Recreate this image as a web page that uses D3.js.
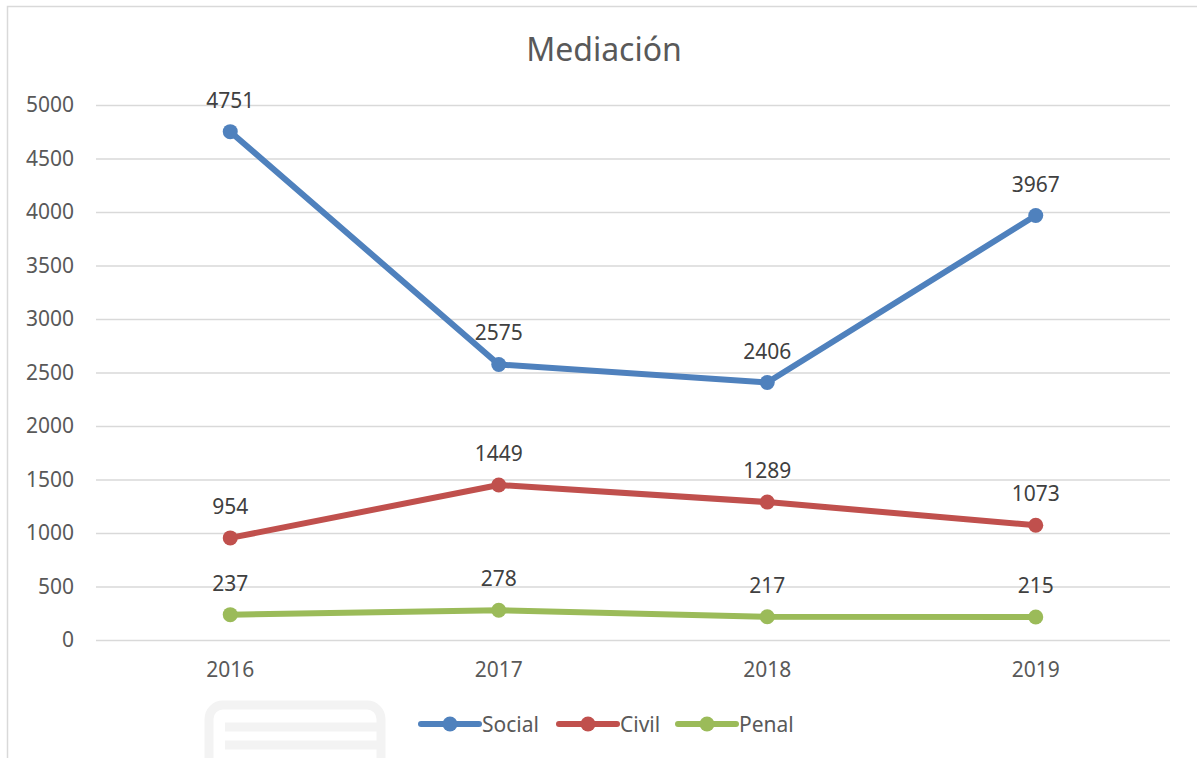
<!DOCTYPE html>
<html>
<head>
<meta charset="utf-8">
<script src="https://cdn.jsdelivr.net/npm/d3@7"></script>
<style>
 body { margin: 0; background: #fff; }
 text { font-family: "Noto Sans", "Open Sans", sans-serif; }
</style>
</head>
<body>
<div id="chart"></div>
<script>
const years = ["2016", "2017", "2018", "2019"];
const social = [4751, 2575, 2406, 3967];
const civil = [954, 1449, 1289, 1073];
const penal = [237, 278, 217, 215];
const yTicks = [0, 500, 1000, 1500, 2000, 2500, 3000, 3500, 4000, 4500, 5000];
const seriesNames = ["Social", "Civil", "Penal"];
const colors = ["#4f81bd", "#c0504d", "#9bbb59"];

const W = 1197, H = 758;
const plot = { left: 96, right: 1170, top: 105, bottom: 640 };

const svg = d3.select("#chart").append("svg")
 .attr("width", W).attr("height", H);

// faint logo of the watermark
const wm = svg.append("g").attr("fill", "none").attr("stroke", "#f3f3f3").attr("stroke-width", 9);
wm.append("rect").attr("x", 209).attr("y", 705).attr("width", 172).attr("height", 90).attr("rx", 14);
wm.append("line").attr("x1", 225).attr("x2", 381).attr("y1", 727).attr("y2", 727);
wm.append("line").attr("x1", 225).attr("x2", 381).attr("y1", 745).attr("y2", 745);

// chart border
svg.append("path")
 .attr("d", `M7.5,${H} V6.5 H${W}`)
 .attr("fill", "none").attr("stroke", "#d9d9d9").attr("stroke-width", 1.5);

const x = d3.scaleBand().domain(years).range([plot.left, plot.right]);
const y = d3.scaleLinear().domain([0, 5000]).range([plot.bottom, plot.top]);

// gridlines
svg.append("g")
 .attr("transform", `translate(${plot.left},0)`)
 .call(d3.axisLeft(y).tickValues(yTicks).tickSize(-(plot.right - plot.left)).tickFormat(""))
 .call(g => g.select(".domain").remove())
 .call(g => g.selectAll("line").attr("stroke", "#d9d9d9").attr("stroke-width", 1.5));

// y labels
svg.append("g")
 .attr("transform", `translate(${plot.left - 22},0)`)
 .call(d3.axisLeft(y).tickValues(yTicks).tickSize(0).tickFormat(d3.format("d")))
 .call(g => g.select(".domain").remove())
 .call(g => g.selectAll("text").attr("font-size", 21).attr("fill", "#595959")
  .attr("font-family", "Noto Sans").attr("x", 0));

// x labels
svg.append("g")
 .attr("transform", `translate(0,${plot.bottom + 19})`)
 .call(d3.axisBottom(x).tickSize(0))
 .call(g => g.select(".domain").remove())
 .call(g => g.selectAll("text").attr("font-size", 21).attr("fill", "#595959")
  .attr("font-family", "Noto Sans"));

// title
svg.append("text")
 .attr("x", 604).attr("y", 61)
 .attr("text-anchor", "middle")
 .attr("font-size", 32).attr("fill", "#595959")
 .text("Mediación");

const series = [social, civil, penal];
const line = d3.line().x((d, i) => x(years[i]) + x.bandwidth() / 2).y(d => y(d));

series.forEach((vals, s) => {
 const g = svg.append("g");
 g.append("path")
  .attr("d", line(vals))
  .attr("fill", "none")
  .attr("stroke", colors[s])
  .attr("stroke-width", 6)
  .attr("stroke-linejoin", "round")
  .attr("stroke-linecap", "round");
 g.selectAll("circle").data(vals).enter().append("circle")
  .attr("cx", (d, i) => x(years[i]) + x.bandwidth() / 2)
  .attr("cy", d => y(d))
  .attr("r", 7.5)
  .attr("fill", colors[s]);
 g.selectAll("text").data(vals).enter().append("text")
  .attr("x", (d, i) => x(years[i]) + x.bandwidth() / 2)
  .attr("y", d => y(d) - 24)
  .attr("text-anchor", "middle")
  .attr("font-size", 21)
  .attr("fill", "#404040")
  .text(d => d);
});

// legend
const legendX = [421, 559, 678];
const legend = svg.append("g").attr("transform", "translate(0,724)");
seriesNames.forEach((name, s) => {
 const item = legend.append("g").attr("transform", `translate(${legendX[s]},0)`);
 item.append("line").attr("x1", 0).attr("x2", 58).attr("y1", 0).attr("y2", 0)
  .attr("stroke", colors[s]).attr("stroke-width", 6).attr("stroke-linecap", "round");
 item.append("circle").attr("cx", 29).attr("cy", 0).attr("r", 7.5).attr("fill", colors[s]);
 item.append("text").attr("x", 61).attr("y", 7.5)
  .attr("font-size", 21).attr("fill", "#595959").text(name);
});
</script>
</body>
</html>
